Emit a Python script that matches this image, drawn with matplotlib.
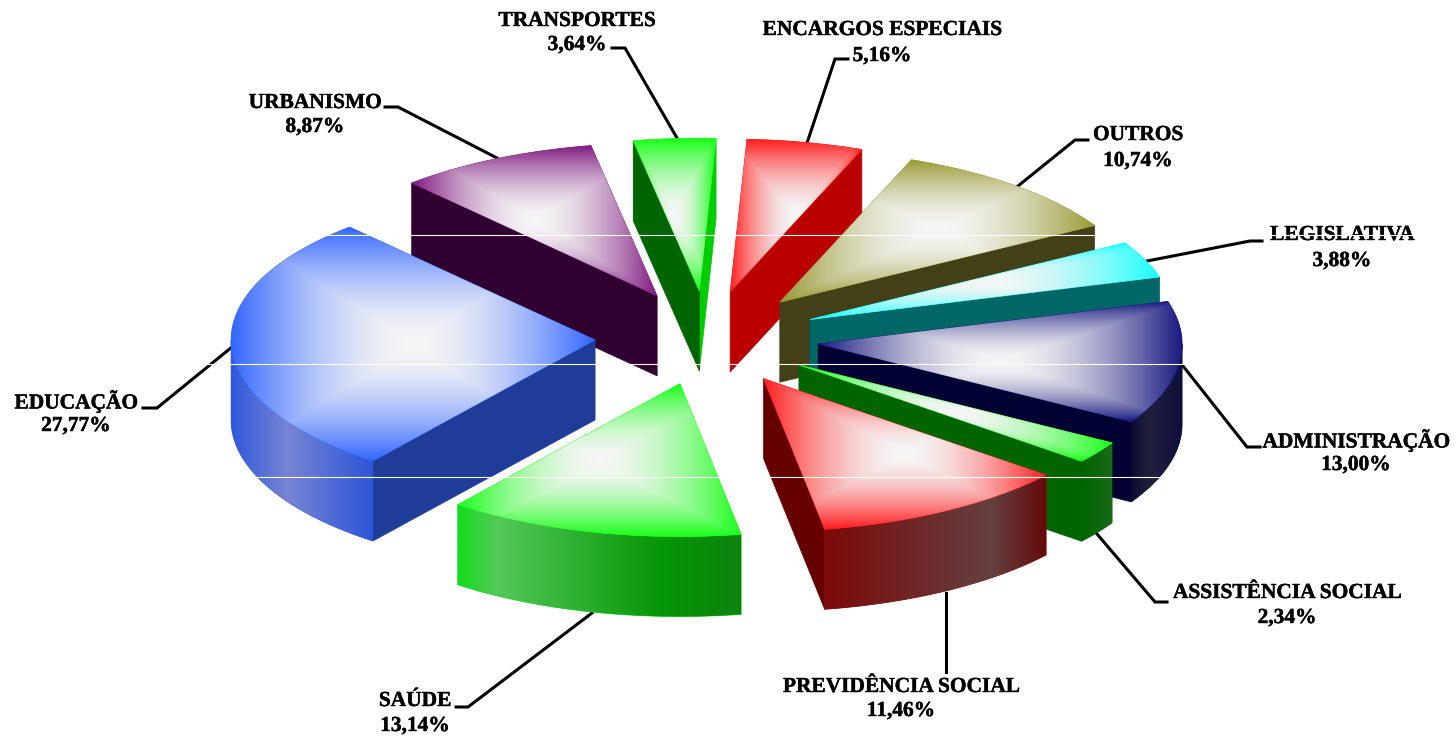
import numpy as np
import matplotlib
matplotlib.use('Agg')
import matplotlib.pyplot as plt
import matplotlib.patheffects as pe
from matplotlib.colors import to_rgb
from matplotlib.patches import Polygon

categories = ['EDUCAÇÃO', 'SAÚDE', 'PREVIDÊNCIA SOCIAL', 'ASSISTÊNCIA SOCIAL', 'ADMINISTRAÇÃO',
              'LEGISLATIVA', 'OUTROS', 'ENCARGOS ESPECIAIS', 'TRANSPORTES', 'URBANISMO']
values = [27.77, 13.14, 11.46, 2.34, 13.00, 3.88, 10.74, 5.16, 3.64, 8.87]

top_colors = ['#3366ff', '#19ff19', '#ff1f1f', '#1aff1a', '#191980',
              '#19ffff', '#999933', '#ff1f1f', '#19ff19', '#801a80']
side_start = ['#1f3c99', None, '#660000', '#006400', '#000033',
              '#006666', '#434018', '#bb0000', '#00cc00', None]
side_end = ['#1f3c99', None, None, None, None, None, None, None, '#006400', '#300030']
# outer wall shading, as fractions of the wall width
wall_stops = {
    'EDUCAÇÃO': ([0, 0.4, 1], ['#2f58dc', '#7884d2', '#2d55d8']),
    'SAÚDE': ([0, 0.14, 0.72, 1], ['#14dc1e', '#55c85a', '#059605', '#0f820f']),
    'PREVIDÊNCIA SOCIAL': ([0, 0.75, 1], ['#7d0a0a', '#644040', '#640a0a']),
    'ASSISTÊNCIA SOCIAL': ([0, 1], ['#006400', '#1a6a1a']),
    'ADMINISTRAÇÃO': ([0, 0.35, 1], ['#0a0a32', '#20203c', '#0f0f3c']),
}

CX, CY = 707, 338
RX, RATIO = 364, 0.42
EXPLODE = 112
DEPTH = 80
START = 132.4
GRAD_POWER = 1.7

# back to front
draw_order = ['TRANSPORTES', 'URBANISMO', 'ENCARGOS ESPECIAIS', 'OUTROS', 'LEGISLATIVA',
              'ADMINISTRAÇÃO', 'ASSISTÊNCIA SOCIAL', 'PREVIDÊNCIA SOCIAL', 'SAÚDE', 'EDUCAÇÃO']

labels = {
    'EDUCAÇÃO': ('27,77%', 76, 402, 426),
    'URBANISMO': ('8,87%', 315, 103, 127),
    'TRANSPORTES': ('3,64%', 577, 21, 45),
    'ENCARGOS ESPECIAIS': ('5,16%', 882, 30, 56),
    'OUTROS': ('10,74%', 1138, 135, 161),
    'LEGISLATIVA': ('3,88%', 1342, 235, 261),
    'ADMINISTRAÇÃO': ('13,00%', 1356, 441, 465),
    'ASSISTÊNCIA SOCIAL': ('2,34%', 1287, 593, 618),
    'PREVIDÊNCIA SOCIAL': ('11,46%', 901, 687, 711),
    'SAÚDE': ('13,14%', 415, 701, 726),
}
leaders = [
    [(143, 408), (157, 408), (232, 347)],
    [(385, 107), (398, 107), (497, 158)],
    [(612, 48), (625, 48), (677, 138)],
    [(848, 59), (835, 59), (807, 143)],
    [(1088, 140), (1075, 140), (1018, 186)],
    [(1262, 241), (1250, 241), (1147, 261)],
    [(1260, 447), (1247, 447), (1183, 366)],
    [(1167, 602), (1155, 602), (1097, 534)],
    [(946, 672), (946, 593)],
    [(456, 707), (468, 707), (592, 613)],
]
scan_lines = [235, 364, 477]

fig = plt.figure(figsize=(14.56, 7.39), dpi=100)
ax = fig.add_axes([0, 0, 1, 1])


def rim(apex, angles):
    a = np.radians(angles)
    return np.column_stack([apex[0] + RX * np.cos(a), apex[1] - RX * RATIO * np.sin(a)])


def paint(poly, rgb_img, zorder):
    x0, y0 = poly.min(axis=0)
    x1, y1 = poly.max(axis=0)
    im = ax.imshow(rgb_img, extent=(x0, x1, y1, y0), aspect='auto', interpolation='bilinear', zorder=zorder)
    im.set_clip_path(Polygon(poly, closed=True, transform=ax.transData))


def flat(poly, color, zorder):
    ax.add_patch(Polygon(poly, closed=True, facecolor=color, edgecolor=color, lw=0.5, zorder=zorder))


def draw_top(poly, color, zorder):
    x0, y0 = poly.min(axis=0)
    x1, y1 = poly.max(axis=0)
    u, v = np.meshgrid(np.linspace(0, 1, int(x1 - x0) + 2), np.linspace(0, 1, int(y1 - y0) + 2))
    t = np.maximum(np.abs(2 * u - 1), np.abs(2 * v - 1))[..., None] ** GRAD_POWER
    img = np.array([0.965, 0.965, 0.965]) * (1 - t) + np.array(to_rgb(color)) * t
    flat(poly, color, zorder)
    paint(poly, img, zorder + 0.1)


def draw_wall(poly, stops, zorder):
    pos, cols = stops
    s = np.linspace(0, 1, 200)
    rgb = np.array([to_rgb(c) for c in cols])
    row = np.column_stack([np.interp(s, pos, rgb[:, i]) for i in range(3)])
    flat(poly, cols[0], zorder)
    paint(poly, np.stack([row, row]), zorder + 0.05)


# angles follow from the values
spans = np.array(values) / sum(values) * 360
starts = START + np.concatenate([[0], np.cumsum(spans)[:-1]])
slices = {}
for i, name in enumerate(categories):
    slices[name] = (i, starts[i], starts[i] + spans[i])

z = 2
for name in draw_order:
    i, a0, a1 = slices[name]
    mid = np.radians((a0 + a1) / 2)
    apex = np.array([CX + EXPLODE * np.cos(mid), CY - EXPLODE * RATIO * np.sin(mid)])
    down = np.array([0, DEPTH])
    edge = rim(apex, np.linspace(a0, a1, 120))

    # radial faces
    if np.cos(np.radians(a0)) > 0 and side_start[i]:
        p0 = rim(apex, [a0])[0]
        flat([apex, p0, p0 + down, apex + down], side_start[i], z)
    if np.cos(np.radians(a1)) < 0 and side_end[i]:
        p1 = rim(apex, [a1])[0]
        flat([apex, p1, p1 + down, apex + down], side_end[i], z)

    # outer wall, only the part turned to the viewer
    low = max(a0, 180)
    high = min(a1, 360)
    if name in wall_stops and high > low:
        front = rim(apex, np.linspace(low, high, 120))
        draw_wall(np.vstack([front, (front + down)[::-1]]), wall_stops[name], z + 0.2)

    draw_top(np.vstack([apex, edge]), top_colors[i], z + 0.4)
    z += 1

for pts in leaders:
    xs, ys = zip(*pts)
    ax.plot(xs, ys, color='black', lw=2.2, solid_joinstyle='miter', zorder=1)

for name, (pct, x, y1, y2) in labels.items():
    for txt, y in ((name, y1), (pct, y2)):
        ax.text(x, y, txt, ha='center', va='center', family='Liberation Serif',
                fontweight='bold', fontsize=15.4, color='black', zorder=30,
                path_effects=[pe.withStroke(linewidth=0.3, foreground='black')])

for y in scan_lines:
    ax.plot([0, 1456], [y, y], color='white', lw=0.8, zorder=40)

ax.set_xlim(0, 1456)
ax.set_ylim(739, 0)
ax.axis('off')
fig.savefig('out.png', dpi=100, facecolor='white')
